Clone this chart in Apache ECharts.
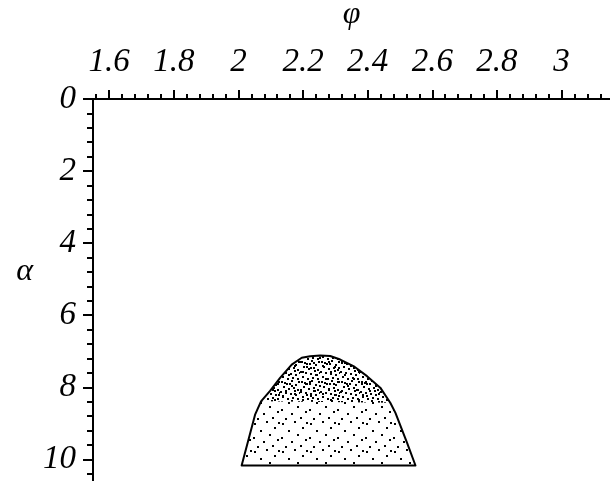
<!DOCTYPE html>
<html>
<head>
<meta charset="utf-8">
<script src="https://cdn.jsdelivr.net/npm/echarts@6/dist/echarts.min.js"></script>
<style>
  html, body { margin: 0; padding: 0; background: #ffffff; }
  #chart { width: 610px; height: 481px; }
</style>
</head>
<body>
<div id="chart"></div>
<script>
// Axis ranges and labelled ticks
const phiRange = [1.55, 3.15];
const alphaRange = [0, 10.6];
const phiTicks = [1.6, 1.8, 2.0, 2.2, 2.4, 2.6, 2.8, 3.0];
const alphaTicks = [0, 2, 4, 6, 8, 10];
const phiMinorStep = 0.04;
const alphaMinorStep = 0.4;

// Boundary of the feasible region, traced from bottom-left over the top to bottom-right
const boundaryPhi   = [2.010, 2.052, 2.070, 2.098, 2.129, 2.165, 2.196, 2.222, 2.253, 2.284, 2.315, 2.356, 2.398, 2.439, 2.470, 2.486, 2.522, 2.548];
const boundaryAlpha = [10.17, 8.75,  8.39,  8.10,  7.74,  7.37,  7.18,  7.14,  7.12,  7.13,  7.23,  7.41,  7.69,  8.01,  8.43,  8.71,  9.54,  10.17];
// Cap of the region shaded with the denser stipple
const denseCapAlpha = 8.45;

function minorValues(range, step, majors) {
  const out = [];
  const start = Math.ceil(range[0] / step - 1e-9);
  const end = Math.floor(range[1] / step + 1e-9);
  for (let k = start; k <= end; k++) {
    const v = Math.round(k * step * 1000) / 1000;
    if (!majors.some(m => Math.abs(m - v) < 1e-6)) out.push(v);
  }
  return out;
}
const phiMinor = minorValues(phiRange, phiMinorStep, phiTicks);
const alphaMinor = minorValues(alphaRange, alphaMinorStep, alphaTicks);

// Stipple textures (fixed dot layouts on a repeating tile)
function stippleTile(size, dots) {
  const c = document.createElement('canvas');
  c.width = size; c.height = size;
  const g = c.getContext('2d');
  g.fillStyle = '#000';
  dots.forEach(d => g.fillRect(d[0], d[1], 2, 2));
  return c;
}
const denseTile = stippleTile(20, [
  [1,1],[6,3],[11,0],[15,4],[18,1],
  [3,6],[8,8],[13,7],[17,9],
  [0,11],[5,12],[10,13],[15,14],[19,12],
  [2,16],[7,18],[12,17],[17,18],[9,3],[4,2],[14,10]
]);
const sparseTile = stippleTile(28, [
  [2,3],[14,1],[22,7],[8,10],[17,14],[1,17],[25,19],[11,21],[20,25],[5,26],[26,2]
]);

const labelFont = {
  fontFamily: 'Liberation Serif',
  fontStyle: 'italic',
  fontSize: 33,
  color: '#000'
};
const axisLineStyle = { color: '#000', width: 2 };

const chart = echarts.init(document.getElementById('chart'), null, { renderer: 'canvas' });

const regionPoints = boundaryPhi.map((p, i) => [p, boundaryAlpha[i]]);

chart.setOption({
  animation: false,
  backgroundColor: '#ffffff',
  grid: { left: 93, top: 99, right: 0, bottom: 0, containLabel: false, outerBoundsMode: 'none' },
  xAxis: [
    {
      type: 'value', position: 'top', min: phiRange[0], max: phiRange[1],
      name: 'φ', nameLocation: 'middle', nameGap: 68,
      nameTextStyle: Object.assign({}, labelFont, { fontSize: 32 }),
      axisLine: { show: true, lineStyle: axisLineStyle },
      axisTick: { show: true, customValues: phiTicks, length: 9, lineStyle: axisLineStyle },
      axisLabel: Object.assign({ show: true, customValues: phiTicks, margin: 20 }, labelFont),
      splitLine: { show: false }
    },
    {
      type: 'value', position: 'top', min: phiRange[0], max: phiRange[1],
      axisLine: { show: false },
      axisTick: { show: true, customValues: phiMinor, length: 5, lineStyle: axisLineStyle },
      axisLabel: { show: false },
      splitLine: { show: false }
    }
  ],
  yAxis: [
    {
      type: 'value', position: 'left', inverse: true, min: alphaRange[0], max: alphaRange[1],
      name: 'α', nameLocation: 'middle', nameGap: 60, nameRotate: 0,
      nameTextStyle: Object.assign({}, labelFont, { fontSize: 32, verticalAlign: 'bottom', lineHeight: 36 }),
      axisLine: { show: true, lineStyle: axisLineStyle },
      axisTick: { show: true, customValues: alphaTicks, length: 10, lineStyle: axisLineStyle },
      axisLabel: Object.assign({ show: true, customValues: alphaTicks, margin: 17 }, labelFont),
      splitLine: { show: false }
    },
    {
      type: 'value', position: 'left', inverse: true, min: alphaRange[0], max: alphaRange[1],
      axisLine: { show: false },
      axisTick: { show: true, customValues: alphaMinor, length: 6, lineStyle: axisLineStyle },
      axisLabel: { show: false },
      splitLine: { show: false }
    }
  ],
  series: [
    {
      type: 'custom',
      coordinateSystem: 'cartesian2d',
      xAxisIndex: 0,
      yAxisIndex: 0,
      data: regionPoints,
      renderItem: function (params, api) {
        if (params.dataIndex !== 0) return null;
        const all = regionPoints.map(p => api.coord(p));
        const cap = regionPoints.filter(p => p[1] <= denseCapAlpha).map(p => api.coord(p));
        return {
          type: 'group',
          children: [
            { type: 'polygon', shape: { points: all },
              style: { fill: { image: sparseTile, repeat: 'repeat' }, stroke: null } },
            { type: 'polygon', shape: { points: cap },
              style: { fill: { image: denseTile, repeat: 'repeat' }, stroke: null } },
            { type: 'polygon', shape: { points: all },
              style: { fill: null, stroke: '#000', lineWidth: 2, lineJoin: 'round' } }
          ]
        };
      }
    }
  ]
});
</script>
</body>
</html>
